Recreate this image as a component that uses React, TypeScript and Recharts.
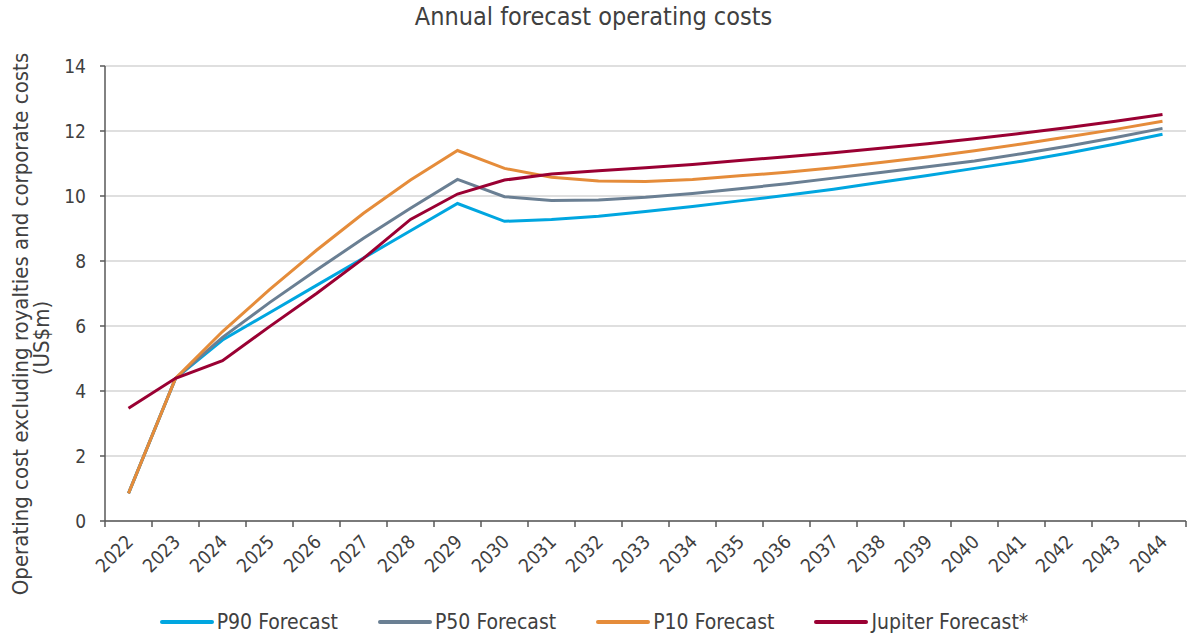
import React from "react";
import { LineChart, Line, XAxis, YAxis, CartesianGrid, Legend } from "recharts";

const years = ["2022","2023","2024","2025","2026","2027","2028","2029","2030","2031","2032","2033","2034","2035","2036","2037","2038","2039","2040","2041","2042","2043","2044"];
const p90 = [0.85, 4.39, 5.57, 6.41, 7.25, 8.09, 8.93, 9.77, 9.22, 9.28, 9.38, 9.52, 9.68, 9.85, 10.02, 10.21, 10.42, 10.63, 10.85, 11.07, 11.32, 11.6, 11.9];
const p50 = [0.85, 4.39, 5.65, 6.72, 7.72, 8.7, 9.62, 10.51, 9.98, 9.86, 9.88, 9.96, 10.08, 10.22, 10.38, 10.55, 10.72, 10.9, 11.08, 11.3, 11.54, 11.8, 12.08];
const p10 = [0.85, 4.39, 5.83, 7.12, 8.33, 9.47, 10.49, 11.4, 10.85, 10.58, 10.46, 10.45, 10.51, 10.62, 10.73, 10.87, 11.03, 11.2, 11.39, 11.6, 11.82, 12.05, 12.3];
const jupiter = [3.47, 4.39, 4.93, 5.98, 7.0, 8.08, 9.28, 10.06, 10.49, 10.68, 10.78, 10.87, 10.97, 11.09, 11.21, 11.33, 11.47, 11.61, 11.76, 11.93, 12.11, 12.3, 12.51];
const yTicks = [0, 2, 4, 6, 8, 10, 12, 14];

const seriesNames = ["P90 Forecast", "P50 Forecast", "P10 Forecast", "Jupiter Forecast*"];
const seriesColors = ["#00a6e0", "#6a7f93", "#e58c3a", "#9a0033"];
const seriesKeys = ["p90", "p50", "p10", "jupiter"];

const data = years.map((y, i) => ({ year: y, p90: p90[i], p50: p50[i], p10: p10[i], jupiter: jupiter[i] }));

const FONT = "'DejaVu Sans Condensed', 'DejaVu Sans', sans-serif";
const TEXT = "#404040";
const AXIS = "#595959";

const W = 1187;
const H = 637;
const PLOT_LEFT = 105;
const PLOT_RIGHT = 1186;
const BAND = (PLOT_RIGHT - PLOT_LEFT) / years.length;

const XTick = (props: any) => {
  const { x, y, payload, index } = props;
  const ax = y - 8;
  return (
    <g>
      <line x1={x - BAND / 2} x2={x - BAND / 2} y1={ax} y2={ax + 6} stroke={AXIS} strokeWidth={1.5} />
      {index === years.length - 1 && (
        <line x1={x + BAND / 2} x2={x + BAND / 2} y1={ax} y2={ax + 6} stroke={AXIS} strokeWidth={1.5} />
      )}
      <text
        x={x + 6}
        y={y + 14}
        textAnchor="end"
        fill={TEXT}
        fontSize={19}
        fontFamily={FONT}
        transform={`rotate(-45, ${x + 6}, ${y + 14})`}
      >
        {payload.value}
      </text>
    </g>
  );
};

const LegendContent = () => (
  <div style={{ display: "flex", justifyContent: "center", alignItems: "center", height: 30, fontFamily: FONT, fontSize: 21, color: TEXT, paddingLeft: 2 }}>
    {seriesNames.map((n, i) => (
      <div key={n} style={{ display: "flex", alignItems: "center", marginRight: i < 3 ? 40 : 0 }}>
        <div style={{ width: 54, height: 4, background: seriesColors[i], borderRadius: 2, marginRight: 3 }} />
        <span>{n}</span>
      </div>
    ))}
  </div>
);

const YLabel = () => (
  <g>
    <text fill={TEXT} fontFamily={FONT} fontSize={22} textAnchor="middle" transform="rotate(-90, 28, 324)" x={28} y={324}>
      Operating cost excluding royalties and corporate costs
    </text>
    <text fill={TEXT} fontFamily={FONT} fontSize={22} textAnchor="middle" transform="rotate(-90, 49, 338)" x={49} y={338}>
      (US$m)
    </text>
  </g>
);

export default function App() {
  return (
    <div style={{ position: "absolute", left: 0, top: 0, width: W, height: H, background: "#fff" }}>
      <div style={{ position: "absolute", left: 0, top: 2, width: W, textAlign: "center", fontFamily: FONT, fontSize: 25, color: TEXT }}>
        Annual forecast operating costs
      </div>
      <LineChart width={W} height={H} data={data} margin={{ top: 66, right: W - PLOT_RIGHT, left: 0, bottom: 0 }}>
        <CartesianGrid vertical={false} stroke="#d4d4d4" strokeWidth={1.5} />
        <XAxis
          dataKey="year"
          interval={0}
          height={86}
          padding={{ left: BAND / 2, right: BAND / 2 }}
          axisLine={{ stroke: AXIS, strokeWidth: 1.5 }}
          tickLine={false}
          tick={<XTick />}
        />
        <YAxis
          domain={[0, 14]}
          ticks={yTicks}
          width={PLOT_LEFT}
          axisLine={{ stroke: AXIS, strokeWidth: 1.5 }}
          tickLine={{ stroke: AXIS, strokeWidth: 1.5 }}
          tickSize={5}
          tickMargin={14}
          tick={{ fill: TEXT, fontSize: 19, fontFamily: FONT }}
          label={{ content: <YLabel /> }}
        />
        <Legend verticalAlign="bottom" height={30} content={<LegendContent />} />
        {seriesKeys.map((k, i) => (
          <Line key={k} type="linear" dataKey={k} name={seriesNames[i]} stroke={seriesColors[i]} strokeWidth={3} dot={false} isAnimationActive={false} />
        ))}
      </LineChart>
    </div>
  );
}
